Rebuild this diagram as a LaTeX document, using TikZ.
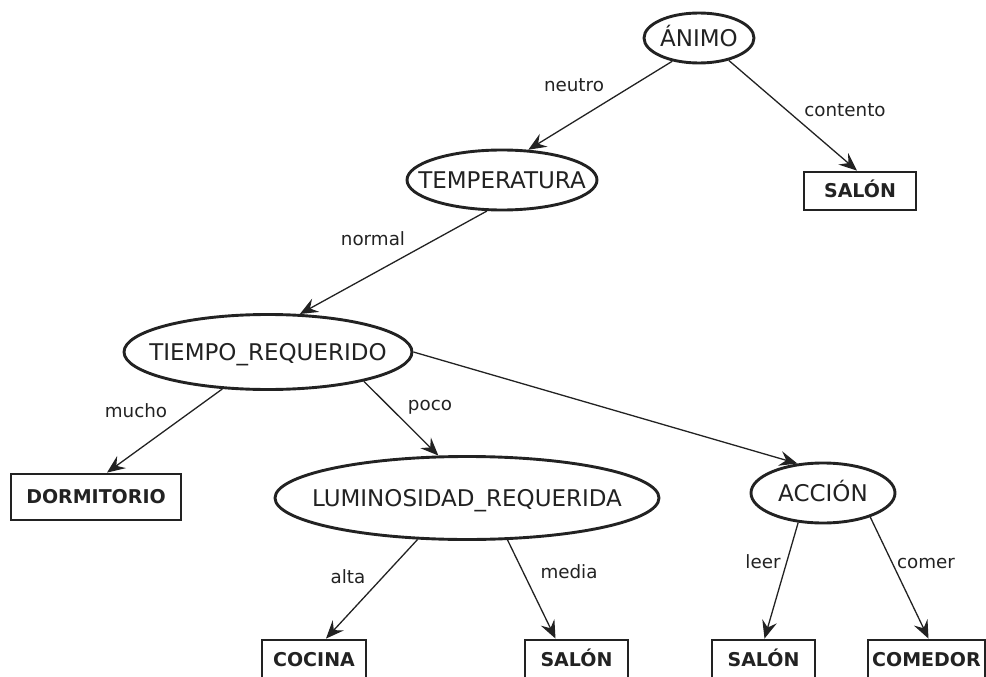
\documentclass[tikz,border=0pt]{standalone}
\usepackage{fontspec}
\setmainfont{DejaVu Sans}
\usetikzlibrary{arrows.meta,shapes.geometric}
\definecolor{ink}{HTML}{222222}
\tikzset{
  dec/.style={ellipse, draw=ink, line width=2.9pt, inner sep=0pt, text=ink,
    font=\fontsize{23}{27}\selectfont, text height=16.8pt, text depth=0pt},
  leaf/.style={rectangle, draw=ink, line width=2.8pt, inner sep=0pt, text=ink,
    font=\fontsize{19}{23}\selectfont\bfseries, text height=13.9pt, text depth=0pt},
  elbl/.style={anchor=base, inner sep=0pt, text=ink, font=\fontsize{18.3}{22}\selectfont},
  conn/.style={draw=ink, line width=1.3pt, -{Stealth[length=18pt,width=15pt,inset=6.5pt]}},
}
\begin{document}
\begin{tikzpicture}[x=1pt,y=-1pt]
\useasboundingbox (0,0) rectangle (986,677);
\clip (0,0) rectangle (986,677);
% decision nodes
\node[dec, minimum width=110pt, minimum height=50pt] (animo) at (699,38) {\makebox[0pt]{ÁNIMO}};
\node[dec, minimum width=190pt, minimum height=60pt] (temp) at (502,180) {\makebox[0pt]{TEMPERATURA}};
\node[dec, minimum width=288pt, minimum height=75pt] (tiempo) at (268,352) {\makebox[0pt]{TIEMPO\_REQUERIDO}};
\node[dec, minimum width=384pt, minimum height=83pt] (lum) at (467,498) {\makebox[0pt]{LUMINOSIDAD\_REQUERIDA}};
\node[dec, minimum width=144pt, minimum height=60pt] (accion) at (823,493) {\makebox[0pt]{ACCIÓN}};
% leaves
\node[leaf, minimum width=112pt, minimum height=38pt] (salon1) at (860,191) {SALÓN};
\node[leaf, minimum width=170pt, minimum height=46pt] (dorm) at (96,497) {DORMITORIO};
\node[leaf, minimum width=104pt, minimum height=40pt] (cocina) at (314,660) {COCINA};
\node[leaf, minimum width=103pt, minimum height=40pt] (salon2) at (576.5,660) {SALÓN};
\node[leaf, minimum width=103pt, minimum height=40pt] (salon3) at (763.5,660) {SALÓN};
\node[leaf, minimum width=117pt, minimum height=40pt] (comedor) at (926.5,660) {COMEDOR};
% connectors
\draw[conn] (animo.-139) -- (temp.49);
\draw[conn] (animo.-37) -- ([xshift=-3pt]salon1.north);
\draw[conn] (temp.-116) -- (tiempo.50);
\draw[conn] (tiempo.-141) -- ([xshift=11pt]dorm.north);
\draw[conn] (tiempo.-17) -- (lum.124);
\draw[conn] (tiempo.0) -- (accion.131);
\draw[conn] (lum.-140) -- ([xshift=12pt]cocina.north);
\draw[conn] (lum.-46) -- ([xshift=-21pt]salon2.north);
\draw[conn] (accion.-130) -- ([xshift=1pt]salon3.north);
\draw[conn] (accion.-27) -- ([xshift=2pt]comedor.north);
% edge labels
\node[elbl] (l1) at (574,92) {neutro};
\node[elbl] (l2) at (845,117) {contento};
\node[elbl] (l3) at (373,245) {normal};
\node[elbl] (l4) at (136,417) {mucho};
\node[elbl] (l5) at (430,410) {poco};
\node[elbl] (l6) at (348,583) {alta};
\node[elbl] (l7) at (569,578) {media};
\node[elbl] (l8) at (763,568) {leer};
\node[elbl] (l9) at (926,568) {comer};
\end{tikzpicture}
\end{document}
